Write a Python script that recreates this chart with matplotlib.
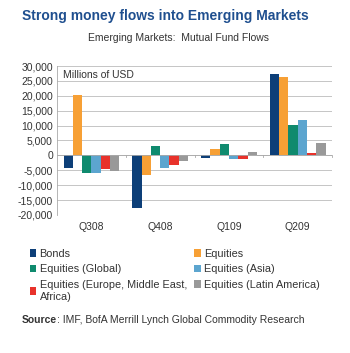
import numpy as np
import matplotlib
matplotlib.use("Agg")
import matplotlib.pyplot as plt
from matplotlib.patches import Patch

plt.rcParams['font.family'] = ['Liberation Sans', 'DejaVu Sans']

# data (millions of USD)
quarters = ['Q308', 'Q408', 'Q109', 'Q209']
series = ['Bonds', 'Equities', 'Equities (Global)', 'Equities (Asia)',
          'Equities (Europe, Middle East,\nAfrica)', 'Equities (Latin America)']
bonds = [-4400, -17700, -900, 27300]
equities = [20300, -6700, 2000, 26300]
eq_global = [-6000, 3100, 3700, 10100]
eq_asia = [-5800, -4400, -1200, 12000]
eq_emea = [-4700, -3300, -1200, 800]
eq_latam = [-5200, -2000, 1000, 4000]
colors = ['#0d3f78', '#f7a035', '#0f8a6e', '#5ca5cf', '#e8322b', '#999999']

values = [bonds, equities, eq_global, eq_asia, eq_emea, eq_latam]
txt = '#333333'

fig = plt.figure(figsize=(3.5, 3.53), dpi=100)
ax = fig.add_axes([0.163, 0.391, 0.786, 0.422])

x = np.arange(len(quarters))
w = 0.135
for i, (vals, c) in enumerate(zip(values, colors)):
    ax.bar(x + (i - 2.5) * w, vals, width=w, color=c, zorder=3)

ax.set_xlim(-0.5, 3.5)
ax.set_ylim(-20000, 30000)
ax.set_yticks(np.arange(-20000, 30001, 5000))
ax.set_yticklabels([f'{v:,}' for v in range(-20000, 30001, 5000)], fontsize=7.5, color=txt)
ax.yaxis.grid(True, color='#bbbbbb', lw=0.6, zorder=0)
ax.tick_params(axis='y', length=0, pad=3)
ax.set_xticks(x)
ax.set_xticklabels(quarters, fontsize=7.5, color=txt)
ax.tick_params(axis='x', length=0, pad=5)
for s in ['top', 'right', 'bottom']:
    ax.spines[s].set_visible(False)
ax.spines['left'].set_color('#aaaaaa')
ax.spines['left'].set_linewidth(0.6)
ax.axhline(0, color='#aaaaaa', lw=0.6, zorder=4)
for b in [0.5, 1.5, 2.5, 3.5]:
    ax.plot([b, b], [0, -700], color='#aaaaaa', lw=0.6, zorder=4, clip_on=False)

ax.text(0.02, 0.975, 'Millions of USD', transform=ax.transAxes, fontsize=7.5,
        color=txt, va='top', ha='left', zorder=5,
        bbox=dict(facecolor='white', edgecolor='none', pad=1))

fig.text(0.063, 0.955, 'Strong money flows into Emerging Markets', fontsize=10,
         fontweight='bold', color='#1f4f8f', ha='left', va='center')
fig.text(0.51, 0.892, 'Emerging Markets:  Mutual Fund Flows', fontsize=7.5,
         color=txt, ha='center', va='center')

# legend: two columns, filled row by row
handles = [Patch(facecolor=c, edgecolor='none') for c in colors]
for col, xpos in [(0, 0.085), (1, 0.555)]:
    leg = fig.legend(handles[col::2], series[col::2], loc='upper left',
                     bbox_to_anchor=(xpos, 0.295), frameon=False, fontsize=7.8,
                     handlelength=0.6, handleheight=0.7, handletextpad=0.3,
                     labelspacing=0.5, borderaxespad=0, borderpad=0)
    for t in leg.get_texts():
        t.set_color(txt)
        t.set_linespacing(1.3)

src = fig.text(0.063, 0.093, 'Source', fontsize=7.5, fontweight='bold',
               color=txt, ha='left', va='center')
fig.canvas.draw()
bb = src.get_window_extent().transformed(fig.transFigure.inverted())
fig.text(bb.x1, 0.093, ': IMF, BofA Merrill Lynch Global Commodity Research',
         fontsize=7.5, color=txt, ha='left', va='center')

fig.savefig('out.png', dpi=100)
